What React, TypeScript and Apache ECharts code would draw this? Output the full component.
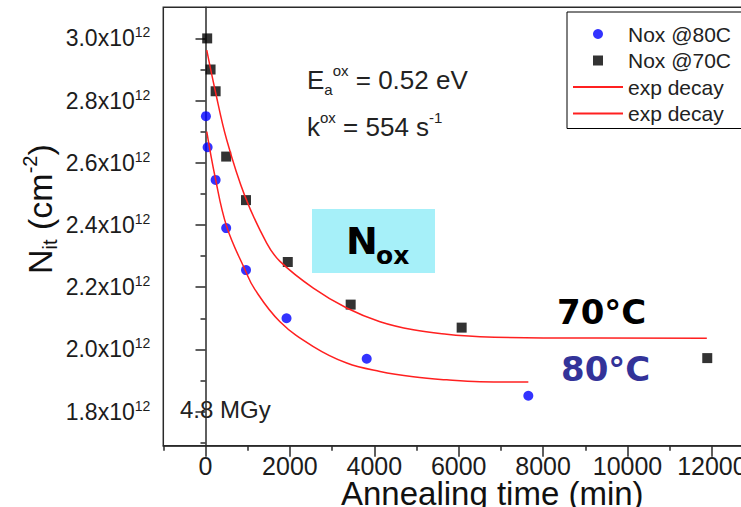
import React, { useEffect, useRef } from 'react';
import * as echarts from 'echarts';

const SANS = '"Liberation Sans", Arial, sans-serif';
const ROUND = '"DejaVu Sans", "Noto Sans", sans-serif';

// Measured defect density (x10^12 cm^-2) vs annealing time (min)
const time80 = [10, 50, 240, 490, 960, 1920, 3820, 7650];
const nox80 = [2.75, 2.65, 2.545, 2.39, 2.255, 2.1, 1.97, 1.851];
const time70 = [40, 120, 240, 490, 960, 1950, 3440, 6070, 11890];
const nox70 = [3.0, 2.9, 2.83, 2.62, 2.48, 2.281, 2.144, 2.07, 1.972];

// Exponential-decay fit curves
const fitTime70 = [30, 225, 502, 936, 1450, 1765, 2555, 3346, 4135, 4924, 5716, 6505, 8000, 11880];
const fit70 = [2.962, 2.835, 2.674, 2.492, 2.342, 2.283, 2.197, 2.133, 2.089, 2.063, 2.049, 2.041, 2.037, 2.036];
const fitTime80 = [30, 225, 502, 936, 1173, 1765, 2555, 3346, 4135, 4924, 5716, 6505, 7650];
const fit80 = [2.7, 2.556, 2.395, 2.256, 2.192, 2.089, 2.009, 1.956, 1.929, 1.912, 1.902, 1.896, 1.895];

// Axis ticks
const xMajor = [0, 2000, 4000, 6000, 8000, 10000, 12000, 14000];
const xMinor = [-1000, 1000, 3000, 5000, 7000, 9000, 11000, 13000];
const xLabels = [0, 2000, 4000, 6000, 8000, 10000, 12000];
const yMajor = [1.8, 2.0, 2.2, 2.4, 2.6, 2.8, 3.0];
const yMinor = [1.7, 1.9, 2.1, 2.3, 2.5, 2.7, 2.9];

const zip = (xs: number[], ys: number[]) => xs.map((x, i) => [x, ys[i]]);

const AXIS_COLOR = '#2a2a2a';
const LABEL_COLOR = '#1c1c1c';
const FIT_RED = '#ff2020';

// Square legend marker centred in a 50x10 icon box (degenerate moves pin the box extent)
const SQUARE_ICON = 'path://M0,5L0,5M50,5L50,5M20,0L30,0L30,10L20,10Z';

export default function App() {
  const ref = useRef<HTMLDivElement>(null);

  useEffect(() => {
    const chart = echarts.init(ref.current!, null, { renderer: 'svg' });

    const hidden = { show: false };
    const option: any = {
      animation: false,
      backgroundColor: '#fff',
      grid: {
        left: 163.3,
        right: -55.3,
        top: 7.3,
        bottom: 61.2,
        containLabel: false,
        outerBoundsMode: 'none',
        show: true,
        borderColor: AXIS_COLOR,
        borderWidth: 1.5,
      },
      xAxis: [
        {
          type: 'value',
          min: -1000,
          max: 14000,
          splitLine: hidden,
          axisLine: { lineStyle: { color: AXIS_COLOR, width: 1.5 } },
          axisTick: { customValues: xMajor, length: 11, lineStyle: { color: AXIS_COLOR, width: 1.5 } },
          axisLabel: {
            customValues: xLabels,
            formatter: (v: number) => String(v),
            fontSize: 25,
            lineHeight: 20,
            fontFamily: SANS,
            color: LABEL_COLOR,
            margin: 10.5,
          },
          name: 'Annealing time (min)',
          nameLocation: 'middle',
          nameGap: 33,
          nameMoveOverlap: false,
          nameTextStyle: { fontSize: 33, lineHeight: 30, fontFamily: SANS, color: '#111', padding: [0, 0, 0, 25] },
        },
        {
          type: 'value',
          min: -1000,
          max: 14000,
          position: 'bottom',
          offset: 0,
          splitLine: hidden,
          axisLine: hidden,
          axisLabel: hidden,
          axisTick: { customValues: xMinor, length: 5, lineStyle: { color: AXIS_COLOR, width: 1.5 } },
        },
      ],
      yAxis: [
        {
          type: 'value',
          min: 1.69,
          max: 3.1,
          splitLine: hidden,
          axisLine: { lineStyle: { color: AXIS_COLOR, width: 1.5 } },
          axisTick: { customValues: yMajor, length: 10, lineStyle: { color: AXIS_COLOR, width: 1.5 } },
          axisLabel: {
            customValues: yMajor,
            margin: 13,
            formatter: (v: number) => `{a|${v.toFixed(1)}x10}{b|12}`,
            rich: {
              a: { fontSize: 23, fontFamily: SANS, color: LABEL_COLOR, lineHeight: 26 },
              b: { fontSize: 14, fontFamily: SANS, color: LABEL_COLOR, verticalAlign: 'top', lineHeight: 14 },
            },
          },
        },
        {
          type: 'value',
          min: 1.69,
          max: 3.1,
          position: 'left',
          offset: 0,
          splitLine: hidden,
          axisLine: hidden,
          axisLabel: hidden,
          axisTick: { customValues: yMinor, length: 5, lineStyle: { color: AXIS_COLOR, width: 1.5 } },
        },
      ],
      legend: {
        orient: 'vertical',
        left: 567,
        top: 12,
        padding: [11, 14, 4, 5],
        itemGap: 4.5,
        itemWidth: 50,
        itemHeight: 10,
        borderColor: '#000',
        borderWidth: 1,
        backgroundColor: '#fff',
        selectedMode: false,
        textStyle: { fontSize: 21, lineHeight: 22, color: '#222', fontFamily: SANS },
        data: [
          { name: 'Nox @80C', icon: 'circle' },
          { name: 'Nox @70C', icon: SQUARE_ICON },
          { name: 'exp decay', itemStyle: { color: 'rgba(0,0,0,0)', borderWidth: 0 } },
          { name: 'exp decay ', itemStyle: { color: 'rgba(0,0,0,0)', borderWidth: 0 } },
        ],
      },
      series: [
        {
          name: 'Nox @80C',
          type: 'scatter',
          data: zip(time80, nox80),
          symbol: 'circle',
          symbolSize: 10,
          itemStyle: { color: '#0000ff' },
          z: 2,
        },
        {
          name: 'Nox @70C',
          type: 'scatter',
          data: zip(time70, nox70),
          symbol: 'rect',
          symbolSize: 10,
          itemStyle: { color: '#000' },
          z: 2,
        },
        {
          name: 'exp decay',
          type: 'line',
          data: zip(fitTime70, fit70),
          symbol: 'none',
          smooth: 0.4,
          itemStyle: { color: FIT_RED },
          lineStyle: { color: FIT_RED, width: 1.5 },
          z: 3,
        },
        {
          name: 'exp decay ',
          type: 'line',
          data: zip(fitTime80, fit80),
          symbol: 'none',
          smooth: 0.4,
          itemStyle: { color: FIT_RED },
          lineStyle: { color: FIT_RED, width: 1.5 },
          z: 3,
        },
      ],
      graphic: [
        // Y axis title, rotated to read bottom-to-top
        {
          type: 'text',
          x: 60,
          y: 274,
          rotation: Math.PI / 2,
          style: {
            text: '{m|N}{s|it}{m| (cm}{p|-2}{m|)}',
            align: 'left',
            verticalAlign: 'bottom',
            fill: '#111',
            rich: {
              m: { fontSize: 34, fontFamily: SANS, fill: '#111', lineHeight: 40 },
              s: { fontSize: 20, fontFamily: SANS, fill: '#111', verticalAlign: 'bottom', lineHeight: 20 },
              p: { fontSize: 20, fontFamily: SANS, fill: '#111', verticalAlign: 'top', lineHeight: 20 },
            },
          },
        },
        // Fit parameters
        {
          type: 'text',
          x: 307,
          y: 62.6,
          style: {
            text: '{m|E}{s|a}{p|ox}{m| = 0.52 eV}',
            verticalAlign: 'top',
            fill: '#222',
            rich: {
              m: { fontSize: 26, fontFamily: SANS, fill: '#222', lineHeight: 34 },
              s: { fontSize: 15, fontFamily: SANS, fill: '#222', verticalAlign: 'bottom', lineHeight: 12 },
              p: { fontSize: 15, fontFamily: SANS, fill: '#222', verticalAlign: 'top', lineHeight: 12 },
            },
          },
        },
        {
          type: 'text',
          x: 307,
          y: 110,
          style: {
            text: '{m|k}{p|ox}{m| = 554 s}{p|-1}',
            verticalAlign: 'top',
            fill: '#222',
            rich: {
              m: { fontSize: 26, fontFamily: SANS, fill: '#222', lineHeight: 34 },
              p: { fontSize: 15, fontFamily: SANS, fill: '#222', verticalAlign: 'top', lineHeight: 12 },
            },
          },
        },
        // Highlighted N_ox box
        {
          type: 'rect',
          shape: { x: 312, y: 209, width: 123, height: 64 },
          style: { fill: '#a6f0f9' },
          z: 10,
        },
        {
          type: 'text',
          x: 346,
          y: 241,
          z: 11,
          style: { text: 'N', fontSize: 38, fontWeight: 'bold', fontFamily: ROUND, fill: '#000', verticalAlign: 'middle' },
        },
        {
          type: 'text',
          x: 376,
          y: 255,
          z: 11,
          style: { text: 'ox', fontSize: 25, fontWeight: 'bold', fontFamily: ROUND, fill: '#000', verticalAlign: 'middle' },
        },
        // Temperature tags
        {
          type: 'text',
          x: 557,
          y: 311.5,
          z: 11,
          style: { text: '70°C', fontSize: 34, fontWeight: 'bold', fontFamily: ROUND, fill: '#000', verticalAlign: 'middle' },
        },
        {
          type: 'text',
          x: 561,
          y: 368.5,
          z: 11,
          style: { text: '80°C', fontSize: 34, fontWeight: 'bold', fontFamily: ROUND, fill: '#333399', verticalAlign: 'middle' },
        },
        // Dose tag
        {
          type: 'text',
          x: 180,
          y: 397,
          style: { text: '4.8 MGy', fontSize: 24, lineHeight: 24, fontFamily: SANS, fill: '#222', verticalAlign: 'top' },
        },
      ],
    };

    chart.setOption(option);
    return () => chart.dispose();
  }, []);

  return (
    <div
      ref={ref}
      style={{ position: 'fixed', left: 0, top: 0, width: 741, height: 507, background: '#fff' }}
    />
  );
}
